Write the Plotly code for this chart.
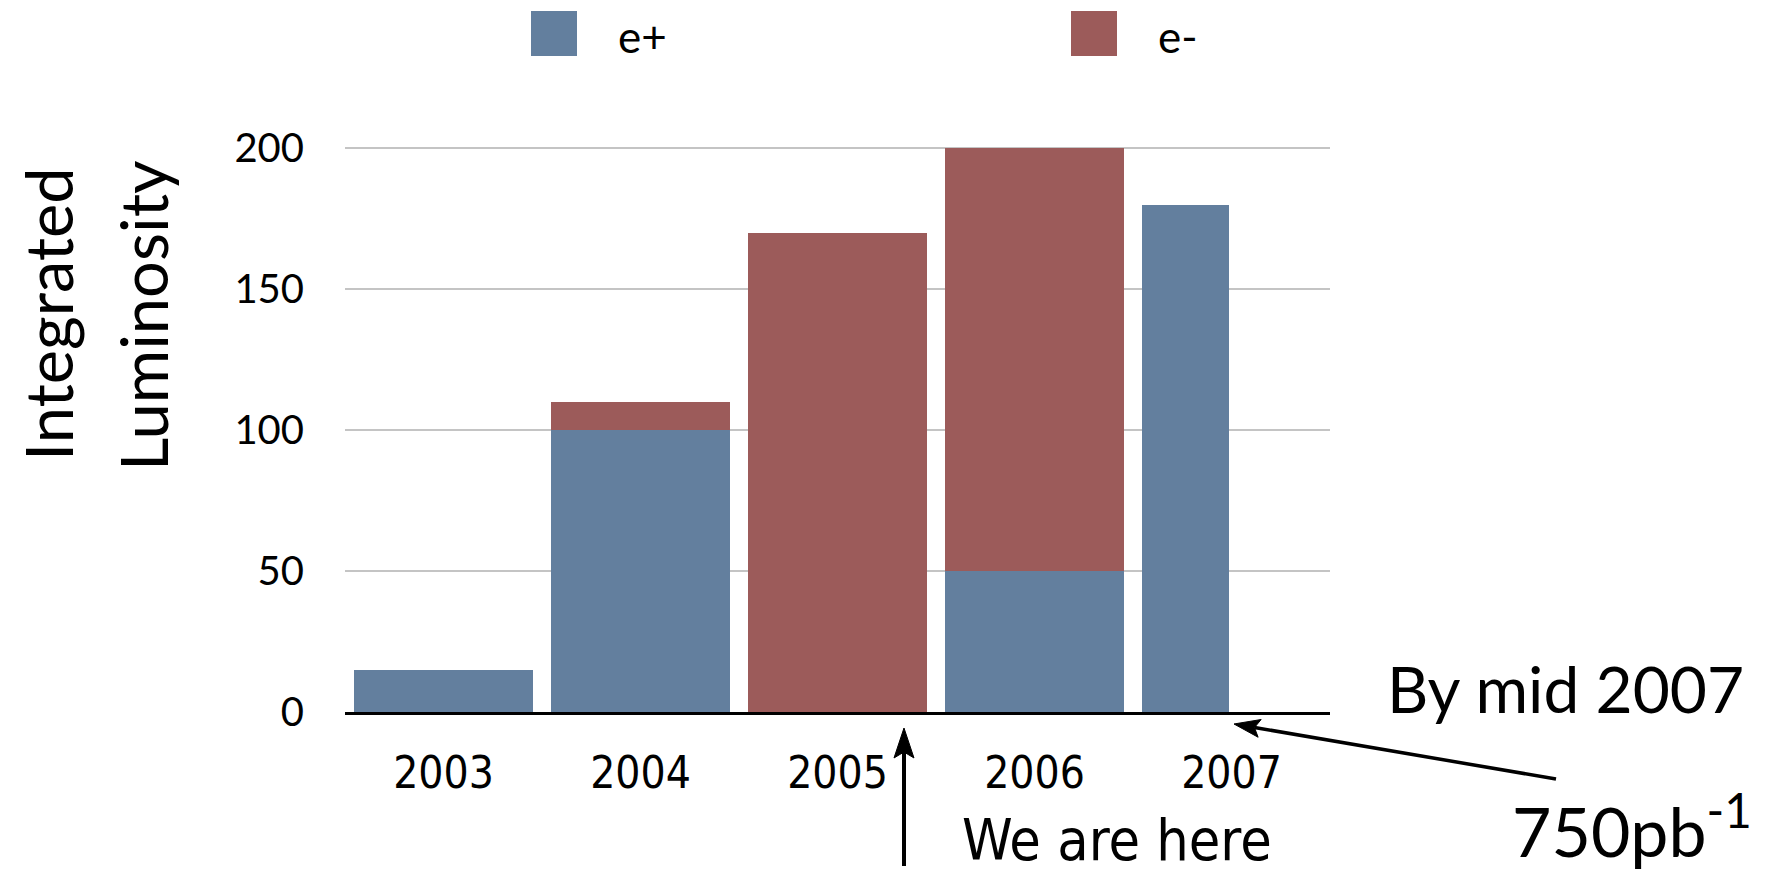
import math
import plotly.graph_objects as go

# Integrated luminosity delivered per year, split by beam lepton charge
years = ["2003", "2004", "2005", "2006", "2007"]
e_plus = [15, 100, 0, 50, 180]
e_minus = [0, 10, 170, 150, 0]
# fraction of the year covered (2007 only up to mid-year)
year_fraction = [1, 1, 1, 1, 0.5]

BLUE = "#637f9e"
RED = "#9c5b5a"

# plot-area geometry in pixels
W, H = 1772, 872
PLOT_L, PLOT_R, PLOT_T, PLOT_B = 345, 1330, 92, 712

BAR_W = 0.905
widths = [BAR_W if f == 1 else 0.44 for f in year_fraction]
offsets = [-BAR_W / 2] * len(years)


def px(x):
    return (x - PLOT_L) / (PLOT_R - PLOT_L)


def py(y):
    return (PLOT_B - y) / (PLOT_B - PLOT_T)


def arrow_shapes(tail, tip, lw, head_len, head_w):
    """Line plus a filled, slightly notched arrowhead, given in page pixels."""
    (x0, y0), (x1, y1) = tail, tip
    d = math.hypot(x1 - x0, y1 - y0)
    ux, uy = (x1 - x0) / d, (y1 - y0) / d
    nx, ny = -uy, ux
    bx, by = x1 - ux * head_len, y1 - uy * head_len
    nbx, nby = x1 - ux * head_len * 0.8, y1 - uy * head_len * 0.8
    pts = [(x1, y1),
           (bx + nx * head_w / 2, by + ny * head_w / 2),
           (nbx, nby),
           (bx - nx * head_w / 2, by - ny * head_w / 2)]
    path = "M " + " L ".join(f"{px(a):.5f},{py(b):.5f}" for a, b in pts) + " Z"
    return [
        dict(type="line", xref="paper", yref="paper",
             x0=px(x0), y0=py(y0), x1=px(nbx), y1=py(nby),
             line=dict(color="black", width=lw)),
        dict(type="path", xref="paper", yref="paper", path=path,
             fillcolor="black", line=dict(color="black", width=1)),
    ]


fig = go.Figure()
fig.add_trace(go.Bar(x=years, y=e_plus, name="e+", marker=dict(color=BLUE, line_width=0),
                     width=widths, offset=offsets))
fig.add_trace(go.Bar(x=years, y=e_minus, name="e-", marker=dict(color=RED, line_width=0),
                     width=widths, offset=offsets))

GILL = "Lato, 'Open Sans', sans-serif"
NARROW = "'DejaVu Sans Condensed', 'Liberation Sans Narrow', sans-serif"

annotations = []
shapes = []

# legend keys
for x0, x1, color, label, tx in [(531, 577, BLUE, "e+", 616), (1071, 1117, RED, "e-", 1156)]:
    shapes.append(dict(type="rect", xref="paper", yref="paper",
                       x0=px(x0), x1=px(x1), y0=py(56), y1=py(11),
                       fillcolor=color, line_width=0))
    annotations.append(dict(text=label, xref="paper", yref="paper", x=px(tx), y=py(36),
                            xanchor="left", yanchor="middle", showarrow=False,
                            font=dict(family=GILL, size=44, color="black")))

# y-axis title, two rotated lines
annotations.append(dict(text="Integrated", xref="paper", yref="paper", x=px(48), y=py(314),
                        xanchor="center", yanchor="middle", textangle=-90, showarrow=False,
                        font=dict(family=GILL, size=65, color="black")))
annotations.append(dict(text="Luminosity", xref="paper", yref="paper", x=px(143), y=py(316),
                        xanchor="center", yanchor="middle", textangle=-90, showarrow=False,
                        font=dict(family=GILL, size=65, color="black")))

# "We are here" marker
shapes += arrow_shapes(tail=(904, 866), tip=(904, 728), lw=4, head_len=30, head_w=20)
annotations.append(dict(text="We are here", xref="paper", yref="paper", x=px(1117), y=py(840),
                        xanchor="center", yanchor="middle", showarrow=False, borderpad=0,
                        font=dict(family=NARROW, size=57, color="black")))

# projection for mid 2007
annotations.append(dict(text="By mid 2007", xref="paper", yref="paper", x=px(1565), y=py(688),
                        xanchor="center", yanchor="middle", showarrow=False, borderpad=0,
                        font=dict(family=GILL, size=64, color="black")))
annotations.append(dict(text="750pb<sup>-1</sup>", xref="paper", yref="paper", x=px(1632), y=py(826),
                        xanchor="center", yanchor="middle", showarrow=False, borderpad=0,
                        font=dict(family=GILL, size=68, color="black")))
shapes += arrow_shapes(tail=(1556, 779), tip=(1234, 724), lw=3.5, head_len=26, head_w=18)

fig.update_layout(
    width=W, height=H,
    margin=dict(l=PLOT_L, r=W - PLOT_R, t=PLOT_T, b=H - PLOT_B),
    paper_bgcolor="white", plot_bgcolor="white",
    barmode="stack",
    showlegend=False,
    annotations=annotations,
    shapes=shapes,
    xaxis=dict(type="category", range=[-0.5, 4.5], showgrid=False,
               showline=True, linecolor="black", linewidth=3,
               ticks="", ticklabelstandoff=20,
               tickfont=dict(family=NARROW, size=44, color="black")),
    yaxis=dict(range=[0, 220], tickvals=[0, 50, 100, 150, 200],
               showgrid=True, gridcolor="#c4c4c4", gridwidth=2,
               zeroline=False, showline=False, ticks="",
               ticklabelstandoff=40,
               tickfont=dict(family=GILL, size=40, color="black")),
)

fig.write_html("out.html")
